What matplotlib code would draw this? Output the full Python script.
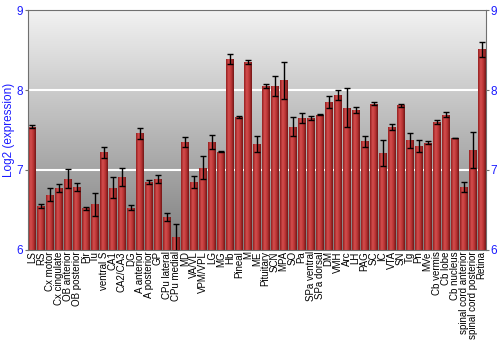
import numpy as np
import matplotlib
matplotlib.use("Agg")
import matplotlib.pyplot as plt
from matplotlib.colors import LinearSegmentedColormap

plt.rcParams['font.family'] = ['Liberation Sans', 'DejaVu Sans']

labels = ["LS", "RS", "Cx motor", "Cx cingulate", "OB anterior", "OB posterior", "Pir", "Tu",
          "ventral S", "CA1", "CA2/CA3", "DG", "A anterior", "A posterior", "GP", "CPu lateral",
          "CPu medial", "MD", "VA/VL", "VPM/VPL", "LG", "MG", "Hb", "Pineal", "M", "ME",
          "Pituitary", "SCN", "MPA", "SO", "Pa", "SPa ventral", "SPa dorsal", "DM", "VMH", "Arc",
          "LH", "PAG", "SC", "IC", "VTA", "SN", "Tg", "Pn", "MVe", "Cb vermis", "Cb lobe",
          "Cb nucleus", "spinal cord anterior", "spinal cord posterior", "Retina"]
values = [7.54, 6.55, 6.69, 6.78, 6.89, 6.79, 6.52, 6.57, 7.22, 6.78, 6.91, 6.53, 7.46, 6.85,
          6.89, 6.41, 6.16, 7.35, 6.85, 7.03, 7.35, 7.23, 8.39, 7.66, 8.35, 7.32, 8.05, 8.05,
          8.12, 7.54, 7.65, 7.65, 7.69, 7.85, 7.94, 7.78, 7.75, 7.36, 7.83, 7.21, 7.54, 7.81,
          7.37, 7.30, 7.34, 7.60, 7.69, 7.40, 6.79, 7.25, 8.51]
errors = [0.02, 0.02, 0.08, 0.05, 0.12, 0.05, 0.02, 0.14, 0.07, 0.13, 0.11, 0.03, 0.07, 0.02,
          0.05, 0.05, 0.17, 0.06, 0.08, 0.14, 0.09, 0.01, 0.06, 0.01, 0.03, 0.10, 0.03, 0.13,
          0.23, 0.12, 0.06, 0.02, 0.005, 0.08, 0.06, 0.24, 0.04, 0.07, 0.02, 0.16, 0.04, 0.02,
          0.09, 0.07, 0.02, 0.02, 0.03, 0.005, 0.06, 0.22, 0.09]

fig = plt.figure(figsize=(5, 3.5), dpi=100)
ax = fig.add_axes([0.055, 0.286, 0.917, 0.685])

x = np.arange(len(labels))
ymin, ymax = 6, 9

# grey gradient background
bg = LinearSegmentedColormap.from_list("bg", ["#7e7e7e", "#f2f2f2"])
ax.imshow(np.linspace(0, 1, 256).reshape(-1, 1), cmap=bg, aspect="auto", origin="lower",
          extent=[-0.5, len(labels) - 0.5, ymin, ymax], zorder=0)
for g in [7, 8]:
    ax.axhline(g, color="white", lw=1.5, zorder=1)

# bars with horizontal shading
bars = ax.bar(x, np.array(values) - ymin, bottom=ymin, width=0.85, color="#b83232",
              edgecolor="none", zorder=2)
shade = LinearSegmentedColormap.from_list("bar", ["#941f1f", "#d44e4e", "#bb3535", "#731616"])
grad = np.linspace(0, 1, 64).reshape(1, -1)
for b in bars:
    im = ax.imshow(grad, cmap=shade, aspect="auto",
                   extent=[b.get_x(), b.get_x() + b.get_width(), ymin, b.get_height() + ymin],
                   zorder=2)
    im.set_clip_path(b)

ax.errorbar(x, values, yerr=errors, fmt="none", ecolor="black", elinewidth=1,
            capsize=2, capthick=1, zorder=3)

ax.set_xlim(-0.5, len(labels) - 0.5)
ax.set_ylim(ymin, ymax)
ax.set_yticks([6, 7, 8, 9])
ax.set_xticks(x)
ax.set_xticklabels(labels, rotation=90, fontsize=7)
ax.tick_params(axis="x", length=0, pad=1)
ax.tick_params(axis="y", labelcolor="#1a1aff", color="#707070", labelsize=8.5, length=2,
               pad=1, right=True, labelright=True)
for s in ax.spines.values():
    s.set_color("#707070")
ax.set_ylabel("Log2 (expression)", color="#1a1aff", fontsize=8.5, labelpad=1)

plt.savefig("out.png", dpi=100)
